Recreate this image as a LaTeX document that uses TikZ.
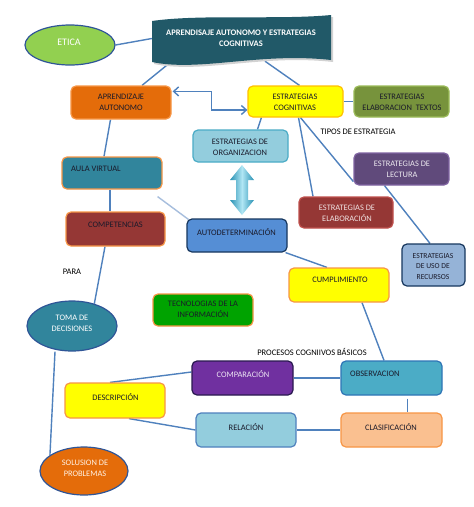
\documentclass[tikz,border=0pt]{standalone}
\usepackage{fontspec}
\setmainfont{Carlito}
\usetikzlibrary{calc,backgrounds,arrows.meta,shapes.geometric}
\definecolor{linec}{HTML}{4F81BD}
\definecolor{lightline}{HTML}{A7BEDD}
\definecolor{bannerc}{HTML}{215968}
\definecolor{eticag}{HTML}{92D050}
\definecolor{navyb}{HTML}{2F5597}
\definecolor{orangef}{HTML}{E46C0A}
\definecolor{orangeb}{HTML}{F79646}
\definecolor{yellowf}{HTML}{FFFF00}
\definecolor{yellowb}{HTML}{FFC000}
\definecolor{olivef}{HTML}{77933C}
\definecolor{oliveb}{HTML}{9BBB59}
\definecolor{ltbluef}{HTML}{93CDDD}
\definecolor{ltblueb}{HTML}{4BACC6}
\definecolor{tealf}{HTML}{31859C}
\definecolor{purplef}{HTML}{604A7B}
\definecolor{purpleb}{HTML}{8064A2}
\definecolor{redf}{HTML}{953735}
\definecolor{redb}{HTML}{C0504D}
\definecolor{bluef}{HTML}{558ED5}
\definecolor{darkb}{HTML}{17375E}
\definecolor{steelf}{HTML}{95B3D7}
\definecolor{greenf}{HTML}{00A300}
\definecolor{violetf}{HTML}{7030A0}
\definecolor{violetb}{HTML}{2A1A50}
\definecolor{obsf}{HTML}{4BACC6}
\definecolor{obsb}{HTML}{2E75B6}
\definecolor{peachf}{HTML}{FAC090}
\definecolor{relb}{HTML}{4F81BD}
\definecolor{txtc}{HTML}{1A1A2A}
\definecolor{arrowdark}{HTML}{2A92B4}
\definecolor{arrowlight}{HTML}{B0E6F4}
\tikzset{
  box/.style={draw, rounded corners=5pt, line width=1.2pt, inner sep=0pt},
  ell/.style={ellipse, draw, line width=1.2pt, inner sep=0pt},
  txt/.style={font=\fontsize{8.4}{11}\selectfont, align=center, inner sep=0pt, text=txtc},
  lbl/.style={font=\fontsize{8.5}{10}\selectfont, inner sep=0pt, text=black},
  conn/.style={draw=linec, line width=1.4pt},
  barb/.style={{Straight Barb[length=5pt,width=9pt]}-{Straight Barb[length=5pt,width=9pt]}}
}
\begin{document}
\begin{tikzpicture}[x=1pt,y=-1pt]
\useasboundingbox (0,0) rectangle (474,507);
\begin{pgfonlayer}{background}
\fill[white] (0,0) rectangle (474,507);
\end{pgfonlayer}

% banner
\fill[gray!35] (154,23) .. controls (200,16) and (280,22) .. (333,17) -- (333,62) .. controls (262,54) and (202,74) .. (154,64) -- cycle;
\fill[bannerc] (152,21) .. controls (200,14) and (280,20) .. (331,15) -- (331,60) .. controls (260,52) and (200,72) .. (152,62) -- cycle;
\node[font=\bfseries\fontsize{8.5}{11}\selectfont, text=white, align=center, inner sep=0pt, minimum width=178pt, minimum height=45pt] (title) at (241,38.5) {APRENDISAJE AUTONOMO Y ESTRATEGIAS\\COGNITIVAS};

% ellipses
\node[ell, fill=eticag, draw=navyb, minimum width=90pt, minimum height=40pt] (etica) at (70,45) {};
\node[font=\fontsize{10}{12}\selectfont, text=white, inner sep=0pt] (etica-t) at (69,42) {ETICA};
\node[ell, fill=tealf, draw=navyb, minimum width=90pt, minimum height=50pt] (toma) at (72,326) {};
\node[txt, text=white] (toma-t) at (72,323.5) {TOMA DE\\DECISIONES};
\node[ell, fill=orangef, draw=navyb, minimum width=88pt, minimum height=48pt] (sol) at (84,471) {};
\node[txt, text=white!90!orange] (sol-t) at (85,468.5) {SOLUSION DE\\PROBLEMAS};

% boxes
\node[box, fill=orangef, draw=orangeb, minimum width=100pt, minimum height=33pt] (aa) at (121,102.5) {};
\node[txt] (aa-t) at (121,102.5) {APRENDIZAJE\\AUTONOMO};
\node[box, fill=yellowf, draw=yellowb, minimum width=95pt, minimum height=31pt] (ec) at (295.5,101.5) {};
\node[txt] (ec-t) at (295,102.5) {ESTRATEGIAS\\COGNITIVAS};
\node[box, fill=olivef, draw=oliveb, minimum width=95pt, minimum height=31pt] (etx) at (401.5,101.5) {};
\node[txt] (etx-t) at (402,102) {ESTRATEGIAS\\ELABORACION\ \ TEXTOS};
\node[box, fill=ltbluef, draw=ltblueb, minimum width=95pt, minimum height=32pt] (eo) at (240.5,146) {};
\node[txt] (eo-t) at (240,147) {ESTRATEGIAS DE\\ORGANIZACION};
\node[box, fill=tealf, draw=orangeb, minimum width=100pt, minimum height=32pt] (aula) at (112,173) {};
\node[txt, anchor=west] (aula-t) at (71,169) {AULA VIRTUAL};
\node[box, fill=purplef, draw=purpleb, minimum width=95pt, minimum height=32pt] (lec) at (401.5,169) {};
\node[txt, text=white!88!purplef] (lec-t) at (402,169.5) {ESTRATEGIAS DE\\LECTURA};
\node[box, fill=redf, draw=redb, minimum width=94pt, minimum height=31pt] (elab) at (346,212.5) {};
\node[txt, text=white!85!redf] (elab-t) at (347,213) {ESTRATEGIAS DE\\ELABORACIÓN};
\node[box, fill=redf, draw=orangeb, minimum width=99pt, minimum height=34pt] (comp) at (115.5,229) {};
\node[txt] (comp-t) at (115.5,225) {COMPETENCIAS};
\node[box, fill=bluef, draw=darkb, minimum width=100pt, minimum height=33pt] (autod) at (237,235.5) {};
\node[txt] (autod-t) at (236.5,232) {AUTODETERMINACIÓN};
\node[box, fill=steelf, draw=darkb, minimum width=63pt, minimum height=42pt] (uso) at (433.5,265) {};
\node[txt, font=\fontsize{7.6}{10.5}\selectfont] (uso-t) at (433,266.5) {ESTRATEGIAS\\DE USO DE\\RECURSOS};
\node[box, fill=yellowf, draw=orangeb, minimum width=100pt, minimum height=34pt] (cum) at (339,285) {};
\node[txt] (cum-t) at (340,280) {CUMPLIMIENTO};
\node[box, fill=greenf, draw=orangeb, minimum width=100pt, minimum height=32pt] (tec) at (203,310) {};
\node[txt] (tec-t) at (203,309.5) {TECNOLOGIAS DE LA\\INFORMACIÓN};
\node[box, fill=violetf, draw=violetb, minimum width=101pt, minimum height=34pt] (compa) at (242.5,378) {};
\node[txt, text=white!88!violetf] (compa-t) at (243,374) {COMPARACIÓN};
\node[box, fill=obsf, draw=obsb, minimum width=101pt, minimum height=34pt] (obs) at (391.5,378) {};
\node[txt, anchor=west] (obs-t) at (350,374) {OBSERVACION};
\node[box, fill=yellowf, draw=orangeb, minimum width=100pt, minimum height=35pt] (des) at (115,400.5) {};
\node[txt] (des-t) at (115.5,397) {DESCRIPCIÓN};
\node[box, fill=ltbluef, draw=relb, minimum width=100pt, minimum height=34pt] (rel) at (246,430) {};
\node[txt] (rel-t) at (246,427) {RELACIÓN};
\node[box, fill=peachf, draw=orangeb, minimum width=101pt, minimum height=34pt] (cla) at (391.5,430) {};
\node[txt] (cla-t) at (391,427) {CLASIFICACIÓN};

% labels
\node[lbl] (tipos) at (358,132) {TIPOS DE ESTRATEGIA};
\node[lbl] (para) at (72,272) {PARA};
\node[lbl] (procesos) at (312,352) {PROCESOS COGNIIVOS BÁSICOS};

% double arrow
\shade[left color=arrowdark, right color=arrowdark, middle color=arrowlight]
  (236,180) -- (230,180) -- (242,165) -- (254,180) -- (248,180) -- (248,200) -- (254,200) -- (242,215) -- (230,200) -- (236,200) -- cycle;

% connectors
\begin{pgfonlayer}{background}
\draw[conn] (etica.east) -- (title.west);
\draw[conn] ($(title.south west)+(20,0)$) -- ($(aa.north)+(21,0)$);
\draw[conn] ($(title.south)+(24,0)$) -- ($(ec.north)+(4,0)$);
\draw[conn] ($(ec.south west)+(14,0)$) -- ($(eo.north)+(17,0)$);
\draw[conn] ($(ec.south)+(3,0)$) -- ($(elab.north)+(-33,0)$);
\draw[conn] ($(ec.south)+(5,0)$) -- ($(lec.south west)+(0,-4)$);
\draw[conn] ($(lec.south)+(-17,0)$) -- ($(uso.north)+(-3.5,0)$);
\draw[conn] (ec.east) -- (etx.west);
\draw[conn] ($(aa.south)+(-10.5,0)$) -- ($(aula.north)+(-8,0)$);
\draw[conn] ($(aula.south)+(-2,0)$) -- ($(comp.north)+(-5.5,0)$);
\draw[conn, draw=lightline] ($(aula.south east)+(-5,7)$) -- ($(autod.north west)+(2,1)$);
\draw[conn] ($(comp.south)+(-10.5,0)$) -- (toma.45);
\draw[conn] ($(autod.south east)+(-2,0)$) -- ($(cum.north)+(-12,0)$);
\draw[conn] ($(cum.south)+(23,0)$) -- ($(obs.north)+(-7.5,0)$);
\draw[conn] (compa.east) -- (obs.west);
\draw[conn] ($(obs.south)+(16,3)$) -- ($(cla.north)+(16,0)$);
\draw[conn] (cla.west) -- (rel.east);
\draw[conn] ($(des.north)+(-5,0)$) -- ($(compa.west)+(0,-6)$);
\draw[conn] ($(des.south)+(14,0)$) -- (rel.west);
\draw[conn] ($(toma.south)+(-17,0)$) -- (sol.155);
\end{pgfonlayer}
\draw[conn, barb] ($(aa.north east)+(1,6)$) -- ++(39,0) |- ($(ec.west)+(0,8.5)$);
\end{tikzpicture}
\end{document}
